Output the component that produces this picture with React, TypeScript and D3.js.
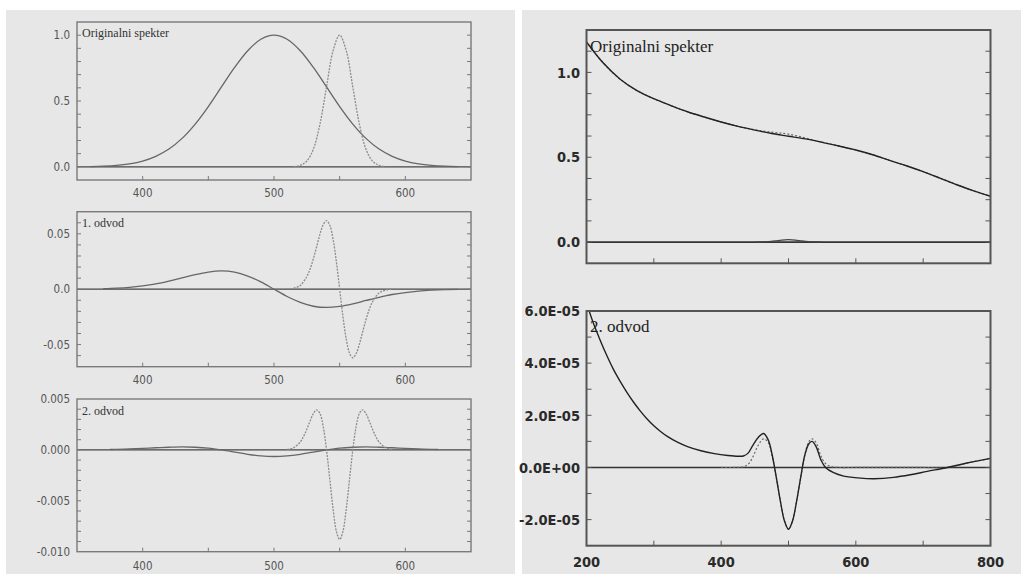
import React from "react";
import * as d3 from "d3";

// ---------- Left column: broad band (~500 nm) and narrow band (~550 nm) ----------
const broadWl = [360, 370, 380, 390, 400, 410, 420, 430, 440, 450, 460, 470, 480, 490, 500, 510, 520, 530, 540, 550, 560, 570, 580, 590, 600, 610, 620, 630, 640];
const broadSpectrum = [0.002, 0.005, 0.011, 0.023, 0.044, 0.08, 0.135, 0.216, 0.325, 0.458, 0.607, 0.755, 0.882, 0.969, 1.0, 0.969, 0.882, 0.755, 0.607, 0.458, 0.325, 0.216, 0.135, 0.08, 0.044, 0.023, 0.011, 0.005, 0.002];

const narrowWl = [515, 520, 525, 530, 535, 540, 545, 550, 555, 560, 565, 570, 575, 580, 585];
const narrowSpectrum = [0.002, 0.011, 0.044, 0.135, 0.325, 0.607, 0.882, 1.0, 0.882, 0.607, 0.325, 0.135, 0.044, 0.011, 0.002];

const broadD1Wl = [370, 380, 390, 400, 410, 420, 430, 440, 450, 460, 470, 480, 490, 500, 510, 520, 530, 540, 550, 560, 570, 580, 590, 600, 610, 620, 630, 640];
const broadD1 = [0.0004, 0.0009, 0.0017, 0.003, 0.0048, 0.0073, 0.0102, 0.0132, 0.0155, 0.0165, 0.0154, 0.0119, 0.0066, 0, -0.0066, -0.0119, -0.0154, -0.0165, -0.0155, -0.0132, -0.0102, -0.0073, -0.0048, -0.003, -0.0017, -0.0009, -0.0004, -0.0002];

const narrowD1Wl = [515, 520, 525, 527.5, 530, 532.5, 535, 537.5, 540, 542.5, 545, 547.5, 550, 552.5, 555, 557.5, 560, 562.5, 565, 567.5, 570, 572.5, 575, 580, 585, 590];
const narrowD1 = [0.0008, 0.0034, 0.0115, 0.0183, 0.0276, 0.0386, 0.0497, 0.0583, 0.0619, 0.0577, 0.045, 0.0247, 0, -0.0247, -0.045, -0.0577, -0.0619, -0.0583, -0.0497, -0.0386, -0.0276, -0.0183, -0.0115, -0.0034, -0.0008, 0];

const broadD2Wl = [375, 380, 390, 400, 410, 420, 430, 440, 450, 460, 470, 480, 490, 500, 510, 520, 530, 540, 550, 560, 570, 580, 590, 600, 610, 620, 625];
const broadD2 = [0.00004, 0.00006, 0.0001, 0.00015, 0.00021, 0.00026, 0.00029, 0.00026, 0.00017, 0, -0.00021, -0.00043, -0.00059, -0.00065, -0.00059, -0.00043, -0.00021, 0, 0.00017, 0.00026, 0.00029, 0.00026, 0.00021, 0.00015, 0.0001, 0.00006, 0.00004];

const narrowD2Wl = [510, 515, 520, 522.5, 525, 527.5, 530, 532.5, 535, 537.5, 540, 542.5, 545, 547.5, 550, 552.5, 555, 557.5, 560, 562.5, 565, 567.5, 570, 572.5, 575, 577.5, 580, 585, 590];
const narrowD2 = [0.00004, 0.00022, 0.00078, 0.00132, 0.00203, 0.00285, 0.00357, 0.00393, 0.00357, 0.00227, 0, -0.0029, -0.00582, -0.008, -0.0088, -0.008, -0.00582, -0.0029, 0, 0.00227, 0.00357, 0.00393, 0.00357, 0.00285, 0.00203, 0.00132, 0.00078, 0.00022, 0.00004];

// ---------- Right column: sloping background with a small band at 500 nm ----------
const measWl = [200, 225, 250, 275, 300, 325, 350, 375, 400, 425, 450, 475, 500, 525, 550, 575, 600, 625, 650, 675, 700, 725, 750, 775, 800];
const measSpectrum = [1.18, 1.055, 0.96, 0.893, 0.845, 0.805, 0.768, 0.737, 0.708, 0.682, 0.66, 0.64, 0.624, 0.608, 0.588, 0.566, 0.543, 0.515, 0.482, 0.45, 0.415, 0.377, 0.338, 0.302, 0.27];
const measSpectrumAlt = [1.18, 1.055, 0.96, 0.893, 0.845, 0.805, 0.768, 0.737, 0.708, 0.682, 0.662, 0.648, 0.636, 0.614, 0.589, 0.566, 0.543, 0.515, 0.482, 0.45, 0.415, 0.377, 0.338, 0.302, 0.27];

const bandWl = [450, 460, 470, 480, 490, 500, 510, 520, 530, 540, 550];
const bandSpectrum = [0, 0.001, 0.003, 0.007, 0.012, 0.014, 0.012, 0.007, 0.003, 0.001, 0];

const measD2Wl = [200, 210, 220, 230, 240, 250, 260, 270, 280, 290, 300, 310, 320, 335, 350, 370, 390, 410, 425, 433, 440, 447, 455, 463, 470, 476, 482, 488, 494, 500, 506, 512, 518, 524, 530, 535, 541, 548, 555, 567, 582, 607, 627, 656, 681, 706, 736, 765, 800];
const measD2 = [6.3e-5, 5.55e-5, 4.9e-5, 4.3e-5, 3.76e-5, 3.3e-5, 2.88e-5, 2.5e-5, 2.16e-5, 1.86e-5, 1.6e-5, 1.38e-5, 1.19e-5, 0.97e-5, 0.8e-5, 0.64e-5, 0.53e-5, 0.46e-5, 0.43e-5, 0.44e-5, 0.55e-5, 0.85e-5, 1.15e-5, 1.3e-5, 1.05e-5, 0.45e-5, -0.4e-5, -1.3e-5, -2.05e-5, -2.37e-5, -2.05e-5, -1.3e-5, -0.4e-5, 0.45e-5, 0.9e-5, 1.0e-5, 0.8e-5, 0.3e-5, 0, -0.2e-5, -0.33e-5, -0.41e-5, -0.43e-5, -0.38e-5, -0.28e-5, -0.15e-5, 0, 0.17e-5, 0.35e-5];

const bandD2Wl = [400, 420, 432, 440, 447, 455, 463, 470, 476, 482, 488, 494, 500, 506, 512, 518, 524, 530, 535, 541, 548, 555, 565, 575, 600, 650, 700, 736, 765, 800];
const bandD2 = [0, 0, 0.02e-5, 0.12e-5, 0.4e-5, 0.85e-5, 1.1e-5, 0.95e-5, 0.4e-5, -0.4e-5, -1.3e-5, -2.05e-5, -2.37e-5, -2.05e-5, -1.3e-5, -0.4e-5, 0.45e-5, 0.98e-5, 1.1e-5, 0.95e-5, 0.45e-5, 0.15e-5, 0.02e-5, 0, 0, 0, 0, 0, 0.17e-5, 0.35e-5];

// ---------- Axis labels ----------
const leftXTickValues = [400, 500, 600];
const leftXTickText = ["400", "500", "600"];
const origYTickValues = [0, 0.5, 1.0];
const origYTickText = ["0.0", "0.5", "1.0"];
const d1YTickValues = [0.05, 0, -0.05];
const d1YTickText = ["0.05", "0.0", "-0.05"];
const d2YTickValues = [0.005, 0, -0.005, -0.01];
const d2YTickText = ["0.005", "0.000", "-0.005", "-0.010"];
const rightXTickValues = [200, 400, 600, 800];
const rightXTickText = ["200", "400", "600", "800"];
const measYTickValues = [0, 0.5, 1.0];
const measYTickText = ["0.0", "0.5", "1.0"];
const measD2YTickValues = [6e-5, 4e-5, 2e-5, 0, -2e-5];
const measD2YTickText = ["6.0E-05", "4.0E-05", "2.0E-05", "0.0E+00", "-2.0E-05"];

type Series = { x: number[]; y: number[]; stroke: string; width: number; dash?: string };

type PanelProps = {
  x0: number; x1: number; y0: number; y1: number;
  xDomain: [number, number]; yDomain: [number, number];
  xMinor: number[]; yMinor: number[];
  xLabelVals: number[]; xLabelText: string[]; xLabelY: number; showXLabels: boolean;
  yLabelVals: number[]; yLabelText: string[]; yLabelX: number;
  title: string; titleX: number; titleY: number; titleSize: number;
  series: Series[];
  theme: "left" | "right";
};

const SANS = "'DejaVu Sans Condensed', 'Liberation Sans Narrow', 'DejaVu Sans', sans-serif";
const SERIF = "'Liberation Serif', 'DejaVu Serif', serif";

function Panel(p: PanelProps) {
  const x = d3.scaleLinear().domain(p.xDomain).range([p.x0, p.x1]);
  const y = d3.scaleLinear().domain(p.yDomain).range([p.y1, p.y0]);
  const isLeft = p.theme === "left";
  const frameColor = isLeft ? "#7a7a7a" : "#555";
  const frameW = isLeft ? 1.4 : 2;
  const tickLen = isLeft ? 4 : 5;
  const labelColor = isLeft ? "#555" : "#2a2a2a";
  const labelSize = isLeft ? 11.5 : 14.5;
  const labelWeight = isLeft ? 400 : 700;
  const line = (s: Series) =>
    d3
      .line<number>()
      .x((_, i) => x(s.x[i]))
      .y((v) => y(v))
      .curve(d3.curveCatmullRom.alpha(0.5))(s.y) || "";
  const clipId = `clip-${p.x0}-${p.y0}`.replace(/\./g, "_");
  return (
    <g>
      <defs>
        <clipPath id={clipId}>
          <rect x={p.x0} y={p.y0} width={p.x1 - p.x0} height={p.y1 - p.y0} />
        </clipPath>
      </defs>
      {/* zero line */}
      <line x1={p.x0} x2={p.x1} y1={y(0)} y2={y(0)} stroke={isLeft ? "#444" : "#333"} strokeWidth={isLeft ? 1.3 : 1.6} />
      <g clipPath={`url(#${clipId})`}>
        {p.series.map((s, i) => (
          <path key={i} d={line(s)} fill="none" stroke={s.stroke} strokeWidth={s.width} strokeDasharray={s.dash} strokeLinejoin="round" />
        ))}
      </g>
      {/* minor ticks */}
      {p.yMinor.map((v, i) => (
        <g key={"yt" + i}>
          <line x1={p.x0} x2={p.x0 + tickLen} y1={y(v)} y2={y(v)} stroke={frameColor} strokeWidth={1} />
          <line x1={p.x1} x2={p.x1 - tickLen} y1={y(v)} y2={y(v)} stroke={frameColor} strokeWidth={1} />
        </g>
      ))}
      {p.xMinor.map((v, i) => (
        <line key={"xt" + i} x1={x(v)} x2={x(v)} y1={p.y1} y2={p.y1 - tickLen} stroke={frameColor} strokeWidth={1} />
      ))}
      <rect x={p.x0} y={p.y0} width={p.x1 - p.x0} height={p.y1 - p.y0} fill="none" stroke={frameColor} strokeWidth={frameW} />
      {/* tick labels */}
      {p.yLabelVals.map((v, i) => (
        <text key={"yl" + i} x={p.yLabelX} y={y(v) + labelSize * 0.36} textAnchor="end" fontFamily={SANS} fontSize={labelSize} fontWeight={labelWeight} fill={labelColor}>
          {p.yLabelText[i]}
        </text>
      ))}
      {p.showXLabels &&
        p.xLabelVals.map((v, i) => (
          <text key={"xl" + i} x={x(v)} y={p.xLabelY} textAnchor="middle" fontFamily={SANS} fontSize={labelSize} fontWeight={labelWeight} fill={labelColor}>
            {p.xLabelText[i]}
          </text>
        ))}
      <text x={p.titleX} y={p.titleY} fontFamily={SERIF} fontSize={p.titleSize} fill={isLeft ? "#333" : "#222"}>
        {p.title}
      </text>
    </g>
  );
}

const BROAD = { stroke: "#666", width: 1.3 };
const NARROW = { stroke: "#8c8c8c", width: 1.3, dash: "2,1.2" };
const MEAS = { stroke: "#222", width: 1.4 };
const MEAS_ALT = { stroke: "#666", width: 1.2, dash: "2,2" };

export default function App() {
  const leftCommon = {
    x0: 77, x1: 471,
    xDomain: [350, 650] as [number, number],
    xMinor: d3.range(400, 601, 50),
    xLabelVals: leftXTickValues, xLabelText: leftXTickText, showXLabels: true,
    yLabelX: 70, titleX: 82, titleSize: 12, theme: "left" as const,
  };
  const rightCommon = {
    x0: 586.5, x1: 990.5,
    xDomain: [200, 800] as [number, number],
    xMinor: d3.range(300, 701, 100),
    xLabelVals: rightXTickValues, xLabelText: rightXTickText,
    yLabelX: 580, titleX: 590, titleSize: 17, theme: "right" as const,
  };
  return (
    <div style={{ position: "absolute", left: 0, top: 0 }}>
      <svg width={1021} height={574} style={{ display: "block" }}>
        <rect x={0} y={0} width={1021} height={574} fill="#fff" />
        <rect x={6} y={10} width={509} height={564} fill="#e7e7e7" />
        <rect x={522} y={10} width={499} height={564} fill="#e7e7e7" />

        <Panel
          {...leftCommon}
          y0={22} y1={180} yDomain={[-0.1, 1.1]}
          yMinor={d3.range(0, 1.01, 0.1)}
          xLabelY={197}
          yLabelVals={origYTickValues} yLabelText={origYTickText}
          title="Originalni spekter" titleY={37}
          series={[
            { x: broadWl, y: broadSpectrum, ...BROAD },
            { x: narrowWl, y: narrowSpectrum, ...NARROW },
          ]}
        />
        <Panel
          {...leftCommon}
          y0={211.7} y1={366.7} yDomain={[-0.07, 0.07]}
          yMinor={d3.range(-0.06, 0.061, 0.01)}
          xLabelY={384}
          yLabelVals={d1YTickValues} yLabelText={d1YTickText}
          title="1. odvod" titleY={227}
          series={[
            { x: broadD1Wl, y: broadD1, ...BROAD },
            { x: narrowD1Wl, y: narrowD1, ...NARROW },
          ]}
        />
        <Panel
          {...leftCommon}
          y0={399} y1={551.7} yDomain={[-0.01, 0.005]}
          yMinor={d3.range(-0.009, 0.0045, 0.001)}
          xLabelY={570}
          yLabelVals={d2YTickValues} yLabelText={d2YTickText}
          title="2. odvod" titleY={415}
          series={[
            { x: broadD2Wl, y: broadD2, ...BROAD },
            { x: narrowD2Wl, y: narrowD2, ...NARROW },
          ]}
        />

        <Panel
          {...rightCommon}
          y0={30} y1={263.3} yDomain={[-0.125, 1.25]}
          yMinor={d3.range(0, 1.126, 0.125)}
          xLabelY={0} showXLabels={false}
          yLabelVals={measYTickValues} yLabelText={measYTickText}
          title="Originalni spekter" titleY={52}
          series={[
            { x: measWl, y: measSpectrumAlt, ...MEAS_ALT },
            { x: measWl, y: measSpectrum, ...MEAS },
            { x: bandWl, y: bandSpectrum, stroke: "#444", width: 1.2 },
          ]}
        />
        <Panel
          {...rightCommon}
          y0={311} y1={545.7} yDomain={[-3e-5, 6e-5]}
          yMinor={d3.range(-2e-5, 5.5e-5, 1e-5)}
          xLabelY={567} showXLabels={true}
          yLabelVals={measD2YTickValues} yLabelText={measD2YTickText}
          title="2. odvod" titleY={332}
          series={[
            { x: bandD2Wl, y: bandD2, ...MEAS_ALT },
            { x: measD2Wl, y: measD2, ...MEAS },
          ]}
        />
      </svg>
    </div>
  );
}
